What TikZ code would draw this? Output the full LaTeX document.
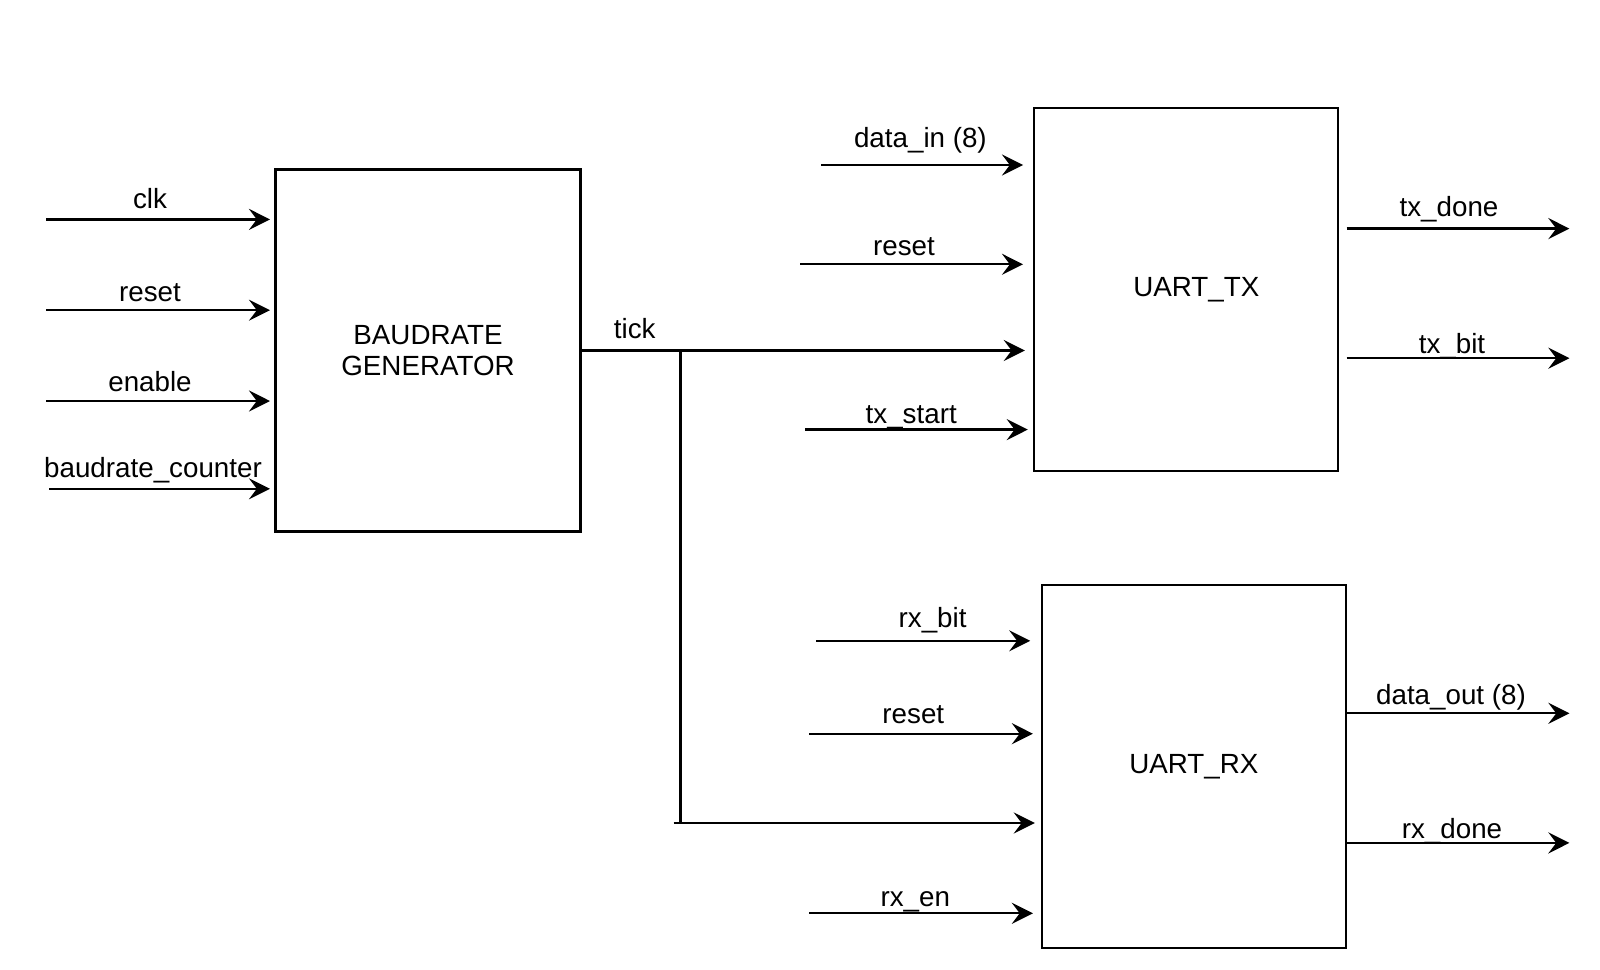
\documentclass[tikz,border=0pt]{standalone}
\usepackage{fontspec}
\setmainfont{Liberation Sans}
\usetikzlibrary{arrows.meta, positioning}

\tikzset{
    block/.style={draw, line width=1.3pt, align=center, inner sep=0pt},
    sig/.style={line width=1.3pt, -{Stealth[length=12pt, width=12pt, inset=4.5pt]}},
    wire/.style={line width=1.3pt},
    lbl/.style={anchor=base, inner sep=0pt},
}

\begin{document}
\begin{tikzpicture}[x=0.02cm, y=-0.02cm, font=\fontsize{15.8}{18}\selectfont]
    \useasboundingbox (0,0) rectangle (1600,970);

    % blocks
    \node[block, minimum width=6.1cm, minimum height=7.24cm] (bg) at (428,350.5) {BAUDRATE\\GENERATOR};
    \node[block, minimum width=6.08cm, minimum height=7.26cm] (tx) at (1185.8,289.8) {\hspace*{12pt}UART\_TX};
    \node[block, minimum width=6.08cm, minimum height=7.26cm] (rx) at (1193.9,766.4) {UART\_RX};

    % baudrate generator inputs
    \coordinate (clkin) at (46,219.4);
    \coordinate (rstbg) at (46,310.2);
    \coordinate (enin)  at (46,401);
    \coordinate (cntin) at (49,488.8);
    \draw[sig, shorten >=2.5pt] (clkin) -- (clkin -| bg.west);
    \draw[sig, shorten >=2.5pt] (rstbg) -- (rstbg -| bg.west);
    \draw[sig, shorten >=2.5pt] (enin) -- (enin -| bg.west);
    \draw[sig, shorten >=2.5pt] (cntin) -- (cntin -| bg.west);
    \node[lbl] (lclk)   at (150,208) {clk};
    \node[lbl] (lrstbg) at (150,301) {reset};
    \node[lbl] (len)    at (150,391) {enable};
    \node[lbl] (lcnt)   at (153,477) {baudrate\_counter};

    % tick to both units
    \coordinate (tickj) at (680.6,350.5);
    \coordinate (tickb) at (680.6,823);
    \coordinate (tickrx) at (673.5,823);
    \draw[sig, shorten >=4.5pt] (bg.east) -- (tx.west |- bg.east);
    \draw[wire] (tickj) -- (tickb);
    \draw[sig, shorten >=3.4pt] (tickrx) -- (tickrx -| rx.west);
    \node[lbl] (ltick) at (634.7,338) {tick};

    % uart tx
    \coordinate (datain)  at (821.4,165);
    \coordinate (rsttx)   at (800,264.3);
    \coordinate (txstart) at (805,429.6);
    \coordinate (txdone)  at (1569.4,228.6);
    \coordinate (txbit)   at (1569.4,358.2);
    \draw[sig, shorten >=5.5pt] (datain) -- (datain -| tx.west);
    \draw[sig, shorten >=5.5pt] (rsttx) -- (rsttx -| tx.west);
    \draw[sig, shorten >=2.8pt] (txstart) -- (txstart -| tx.west);
    \draw[sig, shorten <=4.4pt] (tx.east |- txdone) -- (txdone);
    \draw[sig, shorten <=4.4pt] (tx.east |- txbit) -- (txbit);
    \node[lbl] (ldatain)  at (920.4,147) {data\_in (8)};
    \node[lbl] (lrsttx)   at (904,255) {reset};
    \node[lbl] (ltxstart) at (911.2,423) {tx\_start};
    \node[lbl] (ltxdone)  at (1449,216) {tx\_done};
    \node[lbl] (ltxbit)   at (1452,353) {tx\_bit};

    % uart rx
    \coordinate (rxbit)   at (816.3,640.8);
    \coordinate (rstrx)   at (809.2,733.7);
    \coordinate (rxen)    at (809.2,913.3);
    \coordinate (dataout) at (1569.4,713.3);
    \coordinate (rxdone)  at (1569.4,842.9);
    \draw[sig, shorten >=6pt] (rxbit) -- (rxbit -| rx.west);
    \draw[sig, shorten >=4.5pt] (rstrx) -- (rstrx -| rx.west);
    \draw[sig, shorten >=4.5pt] (rxen) -- (rxen -| rx.west);
    \draw[sig] (rx.east |- dataout) -- (dataout);
    \draw[sig] (rx.east |- rxdone) -- (rxdone);
    \node[lbl] (lrxbit)   at (932.6,627) {rx\_bit};
    \node[lbl] (lrstrx)   at (913.3,723) {reset};
    \node[lbl] (lrxen)    at (915.3,906) {rx\_en};
    \node[lbl] (ldataout) at (1451,704) {data\_out (8)};
    \node[lbl] (lrxdone)  at (1452,838) {rx\_done};
\end{tikzpicture}
\end{document}
